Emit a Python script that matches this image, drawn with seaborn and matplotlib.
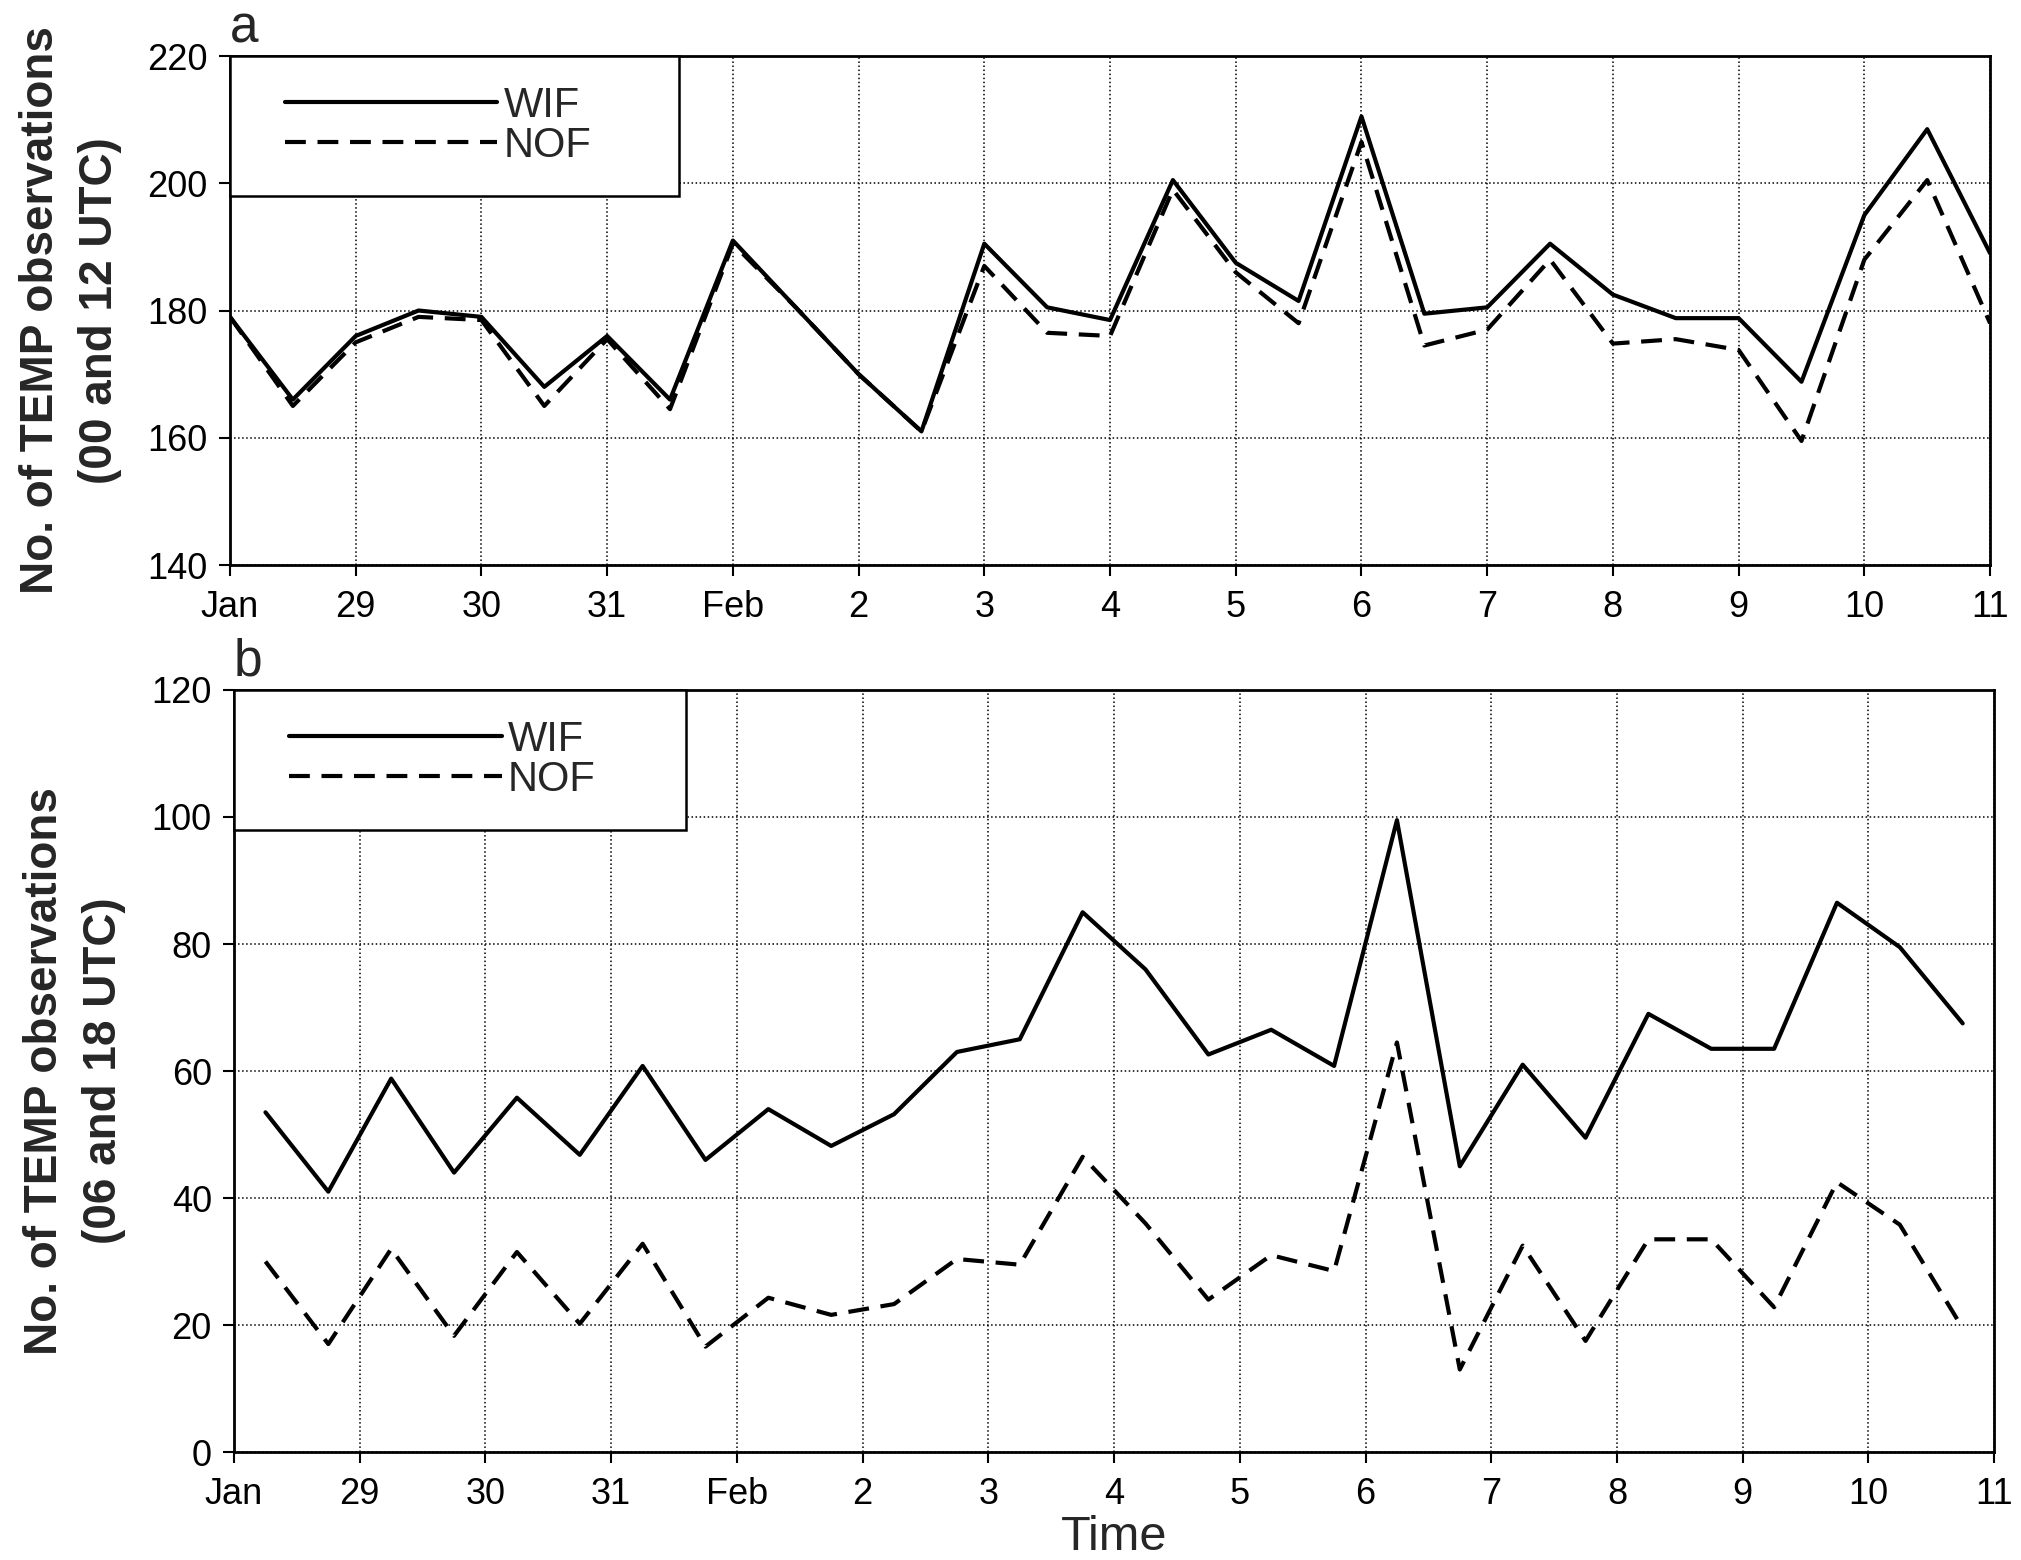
import numpy as np
import pandas as pd
import matplotlib
matplotlib.use("Agg")
import matplotlib.pyplot as plt
from matplotlib.legend_handler import HandlerLine2D
import seaborn as sns

# ---------------- data ----------------
day_ticks = list(range(15))  # 0 = Jan 28 ... 14 = Feb 11
day_labels = ["Jan", "29", "30", "31", "Feb", "2", "3", "4", "5", "6", "7", "8", "9", "10", "11"]

# panel a: 00 and 12 UTC (half-day steps)
t_a = [0, 0.5, 1, 1.5, 2, 2.5, 3, 3.5, 4, 4.5, 5, 5.5, 6, 6.5, 7, 7.5, 8, 8.5,
       9, 9.5, 10, 10.5, 11, 11.5, 12, 12.5, 13, 13.5, 14]
wif_a = [179, 166, 176, 180, 179, 168, 176, 166, 191, 180.5, 170, 161, 190.5, 180.5,
         178.5, 200.5, 187.5, 181.5, 210.5, 179.5, 180.5, 190.5, 182.5, 178.8, 178.8,
         168.8, 195, 208.5, 189]
nof_a = [179, 165, 175, 179, 178.5, 165, 175.5, 164.5, 190.5, 180.5, 170, 161, 187,
         176.5, 176, 199, 186, 178, 206.5, 174.5, 177, 188, 174.8, 175.5, 173.8,
         159.5, 188, 200.5, 178]

# panel b: 06 and 18 UTC
t_b = [0.25, 0.75, 1.25, 1.75, 2.25, 2.75, 3.25, 3.75, 4.25, 4.75, 5.25, 5.75, 6.25,
       6.75, 7.25, 7.75, 8.25, 8.75, 9.25, 9.75, 10.25, 10.75, 11.25, 11.75, 12.25,
       12.75, 13.25, 13.75]
wif_b = [53.5, 41, 58.8, 44, 55.8, 46.8, 60.8, 46, 54, 48.2, 53.2, 63, 65, 85, 76,
         62.6, 66.5, 60.8, 99.5, 45, 61, 49.5, 69, 63.5, 63.5, 86.5, 79.5, 67.5]
nof_b = [30, 17, 32, 18.3, 31.5, 20.2, 32.8, 16.6, 24.3, 21.6, 23.3, 30.4, 29.5, 46.5,
         36, 24, 31, 28.5, 64.5, 13, 32.5, 17.5, 33.5, 33.5, 22.8, 42.5, 35.8, 19.5]

yticks_a = [140, 160, 180, 200, 220]
yticks_b = [0, 20, 40, 60, 80, 100, 120]
series_names = ["WIF", "NOF"]

# ---------------- style ----------------
sns.set_style("ticks")
plt.rcParams["font.family"] = ["Liberation Sans", "DejaVu Sans"]
plt.rcParams["axes.linewidth"] = 2.0

fig = plt.figure(figsize=(20.21, 15.6), dpi=100)
ax_a = fig.add_axes([0.1138, 0.6378, 0.8709, 0.3263])
ax_b = fig.add_axes([0.1158, 0.0692, 0.8709, 0.4885])

LW = 3.0
dashes = {"WIF": "", "NOF": (5, 2.8)}


def draw(ax, t, wif, nof, yticks, ylabel, letter, leg_w):
    df = pd.DataFrame({
        "t": list(t) + list(t),
        "n": list(wif) + list(nof),
        "series": ["WIF"] * len(t) + ["NOF"] * len(t),
    })
    sns.lineplot(data=df, x="t", y="n", style="series", style_order=series_names,
                 dashes=dashes, color="black", linewidth=LW, ax=ax, legend=False)
    ax.set_xlim(0, 14)
    ax.set_ylim(yticks[0], yticks[-1])
    ax.set_xticks(day_ticks)
    ax.set_xticklabels(day_labels)
    ax.set_yticks(yticks)
    ax.grid(True, linestyle=":", color="black", linewidth=1.1)
    ax.tick_params(axis="both", direction="out", length=8, width=1.5,
                   labelsize=26, colors="black")
    ax.tick_params(axis="x", pad=10)
    ax.tick_params(axis="y", pad=8)
    for s in ax.spines.values():
        s.set_visible(True)
        s.set_color("black")
    ax.set_xlabel("")
    ax.set_ylabel(ylabel, fontsize=33, fontweight="bold", linespacing=1.45,
                  labelpad=18)
    ax.text(0.0, 1.005, letter, transform=ax.transAxes, fontsize=37,
            ha="left", va="bottom")
    h1, = ax.plot([], [], color="black", lw=LW, ls="-")
    h2, = ax.plot([], [], color="black", lw=LW, ls=(0, (5, 2.8)))
    hm = HandlerLine2D(xpad=0.6)
    leg = ax.legend([h1, h2], series_names, loc="upper left",
                    bbox_to_anchor=(0, 1, leg_w, 0), mode="expand",
                    borderaxespad=0, fontsize=30, handlelength=5.7,
                    handletextpad=0.15, labelspacing=0.0, borderpad=0.72,
                    fancybox=False, framealpha=1, edgecolor="black",
                    handler_map={h1: hm, h2: hm})
    leg.get_frame().set_linewidth(1.8)


draw(ax_a, t_a, wif_a, nof_a, yticks_a,
     "No. of TEMP observations\n(00 and 12 UTC)", "a", 0.255)
draw(ax_b, t_b, wif_b, nof_b, yticks_b,
     "No. of TEMP observations\n(06 and 18 UTC)", "b", 0.257)
ax_b.set_xlabel("Time", fontsize=35, labelpad=2)

fig.savefig("out.png", dpi=100)
